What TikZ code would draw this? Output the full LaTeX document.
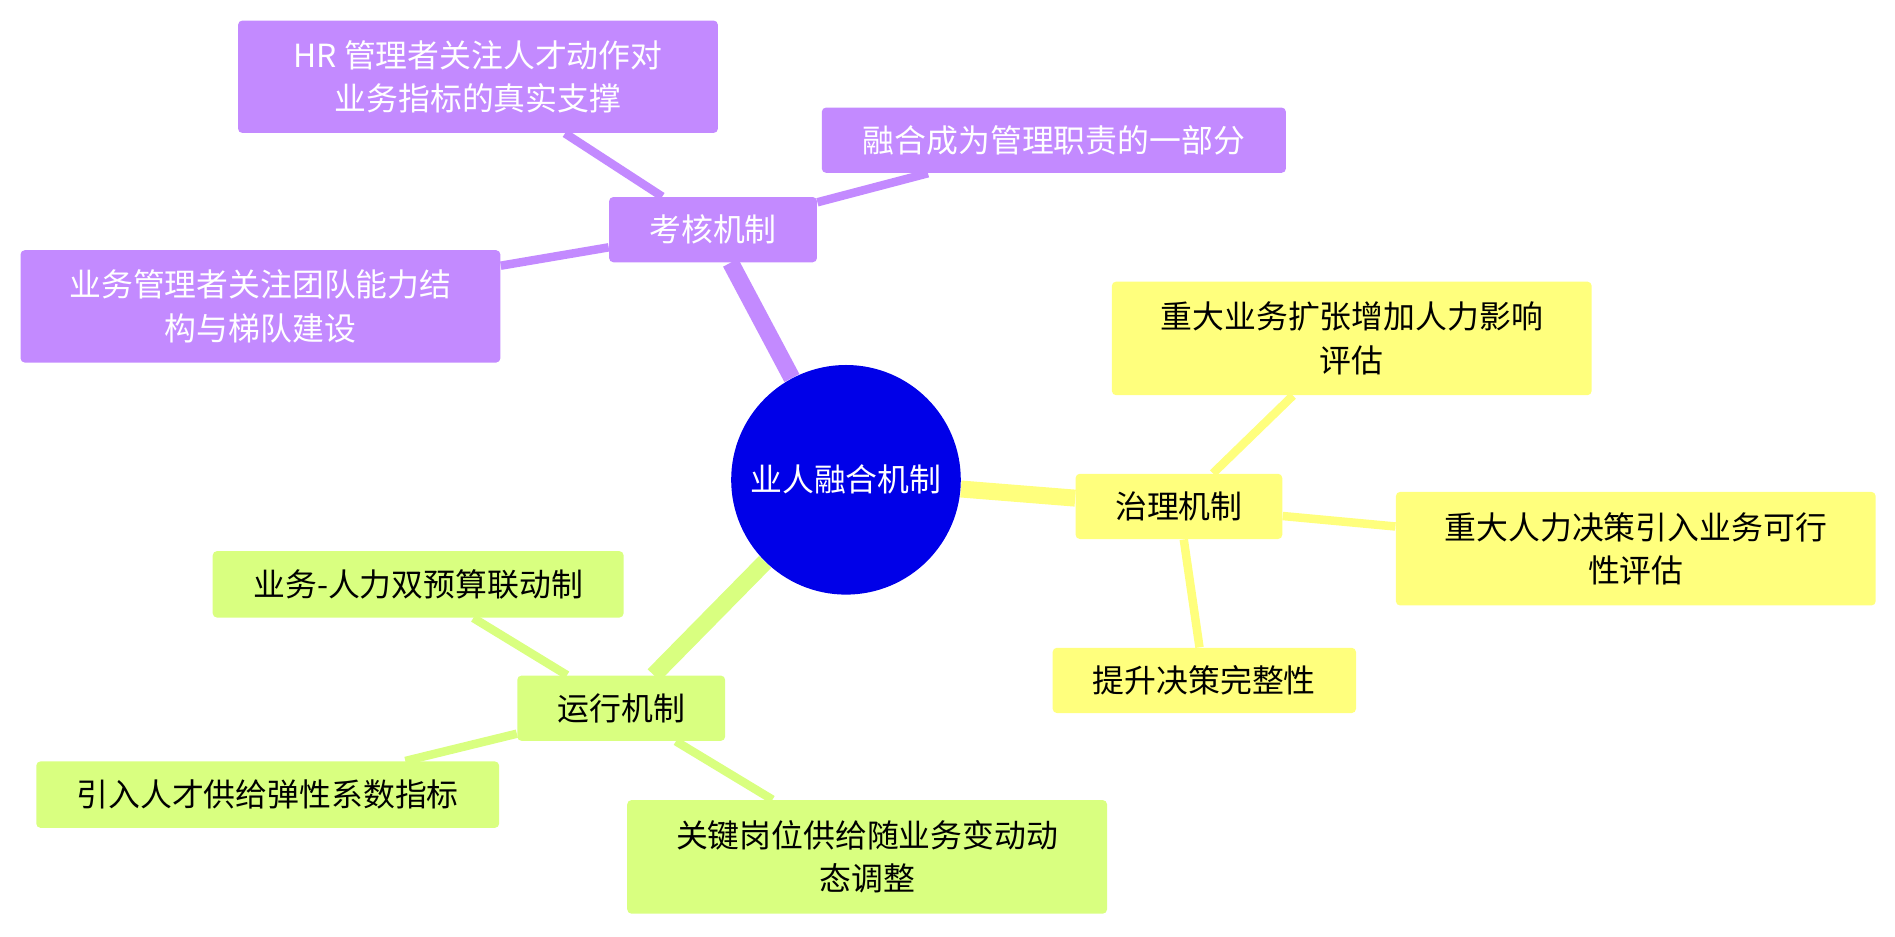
\documentclass[tikz,border=0pt]{standalone}
\usepackage{fontspec}
\setmainfont{Noto Sans CJK SC}
\usetikzlibrary{backgrounds}
\definecolor{pur}{RGB}{195,138,255}
\definecolor{yel}{RGB}{255,255,125}
\definecolor{grn}{RGB}{217,255,128}
\definecolor{lav}{RGB}{176,176,255}
\definecolor{lgr}{RGB}{224,255,190}
\definecolor{lpu}{RGB}{212,185,255}
\definecolor{cblue}{RGB}{0,0,232}
\tikzset{
  x=0.02cm,y=-0.02cm,
  box/.style={rounded corners=2pt, inner sep=0pt, align=center, font=\fontsize{15}{20.5}\selectfont},
  pbox/.style={box, fill=pur, text=white, append after command={[draw=lgr, line width=1.7pt] ([yshift=0.85pt]\tikzlastnode.south west) -- ([yshift=0.85pt]\tikzlastnode.south east)}},
  ybox/.style={box, fill=yel, append after command={[draw=lav, line width=1.7pt] ([yshift=0.85pt]\tikzlastnode.south west) -- ([yshift=0.85pt]\tikzlastnode.south east)}},
  gbox/.style={box, fill=grn, append after command={[draw=lpu, line width=1.7pt] ([yshift=0.85pt]\tikzlastnode.south west) -- ([yshift=0.85pt]\tikzlastnode.south east)}},
  thick1/.style={line width=8pt},
  thin1/.style={line width=4pt},
}
\newcommand{\bx}[6]{\node[#1, minimum width=#4*0.02cm, minimum height=#5*0.02cm] (#2) at (#3) {#6};}
\begin{document}
\begin{tikzpicture}
\useasboundingbox (0,0) rectangle (1568,775);
\node[circle, fill=cblue, minimum size=190*0.02cm, inner sep=0pt, text=white, font=\fontsize{15}{18}\selectfont] (c) at (700,397) {业人融合机制};
\bx{pbox}{k}{590,190}{172}{54}{考核机制}
\bx{pbox}{k1}{395.5,63.5}{397}{93}{HR 管理者关注人才动作对\\业务指标的真实支撑}
\bx{pbox}{k2}{872,116}{384}{54}{融合成为管理职责的一部分}
\bx{pbox}{k3}{215.5,253.5}{397}{93}{业务管理者关注团队能力结\\构与梯队建设}
\bx{ybox}{z}{975.5,419}{171}{54}{治理机制}
\bx{ybox}{z1}{1118.5,280}{397}{94}{重大业务扩张增加人力影响\\评估}
\bx{ybox}{z2}{1353.5,454}{397}{94}{重大人力决策引入业务可行\\性评估}
\bx{ybox}{z3}{996.5,563}{251}{54}{提升决策完整性}
\bx{gbox}{y}{514,586}{172}{54}{运行机制}
\bx{gbox}{y1}{346,483.5}{340}{55}{业务-人力双预算联动制}
\bx{gbox}{y2}{221.5,657.5}{383}{55}{引入人才供给弹性系数指标}
\bx{gbox}{y3}{717.5,709}{397}{94}{关键岗位供给随业务变动动\\态调整}
\begin{scope}[on background layer]
\draw[pur,thick1] (c) -- (k);
\draw[pur,thin1] (k) -- (k1);
\draw[pur,thin1] (k) -- (k2);
\draw[pur,thin1] (k) -- (k3);
\draw[yel,thick1] (c) -- (z);
\draw[yel,thin1] (z) -- (z1);
\draw[yel,thin1] (z) -- (z2);
\draw[yel,thin1] (z) -- (z3);
\draw[grn,thick1] (c) -- (y);
\draw[grn,thin1] (y) -- (y1);
\draw[grn,thin1] (y) -- (y2);
\draw[grn,thin1] (y) -- (y3);
\end{scope}
\end{tikzpicture}
\end{document}
